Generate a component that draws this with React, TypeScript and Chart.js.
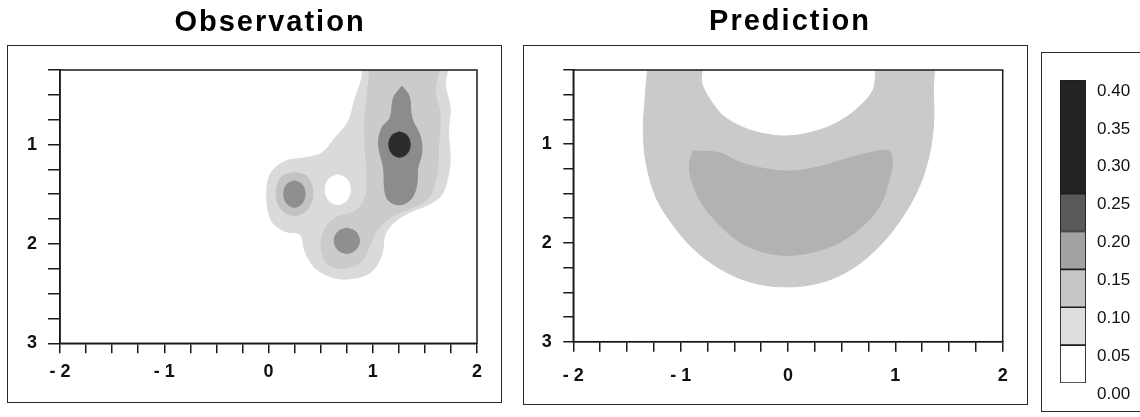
import React, { useEffect, useRef } from 'react';
import { Chart, registerables } from 'chart.js';

Chart.register(...registerables);

const FONT = '"Liberation Sans", Arial, Helvetica, sans-serif';

// ---------- axis ticks ----------
const xTickValues = [-2, -1, 0, 1, 2];
const xTickLabels = ['- 2', '- 1', '0', '1', '2'];
const yTickValues = [1, 2, 3];
const yTickLabels = ['1', '2', '3'];

// ---------- colour scale ----------
const levelLow = [0.0, 0.05, 0.1, 0.15, 0.2, 0.25];
const levelHigh = [0.05, 0.1, 0.15, 0.2, 0.25, 0.4];

type Pt = [number, number];

// ---------- Observation contour outlines (x, y in data units) ----------
const obsBand005: Pt[] = [
  [0.895, 0.15], [1.711, 0.15], [1.695, 0.395], [1.743, 0.63], [1.727, 0.866], [1.743, 1.134],
  [1.727, 1.3], [1.663, 1.504], [1.535, 1.605], [1.375, 1.672], [1.215, 1.773], [1.119, 1.907],
  [1.087, 2.109], [0.991, 2.277], [0.831, 2.344], [0.639, 2.344], [0.447, 2.243], [0.351, 2.076],
  [0.303, 1.907], [0.159, 1.873], [0.031, 1.773], [-0.016, 1.537], [0.015, 1.302], [0.159, 1.168],
  [0.351, 1.134], [0.511, 1.084], [0.639, 0.932], [0.767, 0.765], [0.831, 0.532], [0.895, 0.328],
  [0.895, 0.15],
];
const obsBand010Main: Pt[] = [
  [0.975, 0.15], [1.615, 0.15], [1.599, 0.462], [1.647, 0.698], [1.631, 1.034], [1.615, 1.302],
  [1.535, 1.538], [1.375, 1.638], [1.215, 1.706], [1.055, 1.84], [0.975, 2.008], [0.895, 2.176],
  [0.735, 2.243], [0.575, 2.21], [0.511, 2.075], [0.527, 1.874], [0.639, 1.739], [0.831, 1.672],
  [0.927, 1.538], [0.943, 1.302], [0.927, 1.034], [0.927, 0.698], [0.959, 0.395], [0.975, 0.15],
];
const obsBand010Left: Pt[] = [
  [0.249, 1.279], [0.374, 1.326], [0.425, 1.497], [0.374, 1.652], [0.249, 1.716],
  [0.124, 1.652], [0.073, 1.497], [0.124, 1.326], [0.249, 1.279],
];
const obsBand015Main: Pt[] = [
  [1.279, 0.412], [1.349, 0.513], [1.375, 0.731], [1.455, 0.916], [1.471, 1.084], [1.432, 1.235],
  [1.423, 1.403], [1.375, 1.538], [1.279, 1.605], [1.167, 1.578], [1.119, 1.487], [1.103, 1.235],
  [1.055, 1.0], [1.087, 0.832], [1.167, 0.731], [1.199, 0.53], [1.279, 0.412],
];
const obsBand015Left: Pt[] = [
  [0.249, 1.363], [0.322, 1.403], [0.351, 1.497], [0.322, 1.591], [0.249, 1.632],
  [0.175, 1.591], [0.146, 1.497], [0.175, 1.403], [0.249, 1.363],
];
const obsBand015Low: Pt[] = [
  [0.751, 1.84], [0.837, 1.877], [0.873, 1.968], [0.837, 2.058], [0.751, 2.095],
  [0.665, 2.058], [0.63, 1.968], [0.665, 1.877], [0.751, 1.84],
];
const obsBand025Peak: Pt[] = [
  [1.257, 0.872], [1.33, 0.909], [1.359, 1.0], [1.33, 1.091], [1.257, 1.128],
  [1.183, 1.091], [1.154, 1.0], [1.183, 0.909], [1.257, 0.872],
];
const obsHole: Pt[] = [
  [0.665, 1.302], [0.751, 1.346], [0.786, 1.454], [0.751, 1.561], [0.665, 1.605],
  [0.578, 1.561], [0.543, 1.454], [0.578, 1.346], [0.665, 1.302],
];

// ---------- Prediction contour outlines ----------
const predBand005: Pt[] = [
  [-1.301, 0.15], [-1.332, 0.547], [-1.347, 0.883], [-1.317, 1.219], [-1.223, 1.555], [-1.068, 1.824],
  [-0.882, 2.059], [-0.634, 2.261], [-0.354, 2.395], [-0.044, 2.445], [0.267, 2.412], [0.547, 2.294],
  [0.795, 2.093], [1.012, 1.824], [1.199, 1.488], [1.307, 1.152], [1.354, 0.816], [1.354, 0.48],
  [1.323, 0.15], [0.857, 0.15], [0.795, 0.446], [0.671, 0.614], [0.485, 0.765], [0.267, 0.866],
  [0.019, 0.916], [-0.199, 0.9], [-0.416, 0.832], [-0.602, 0.715], [-0.727, 0.547], [-0.804, 0.379],
  [-0.82, 0.15], [-1.301, 0.15],
];
const predBand010: Pt[] = [
  [-0.882, 1.068], [-0.634, 1.091], [-0.447, 1.185], [-0.199, 1.252], [0.019, 1.273], [0.267, 1.236],
  [0.485, 1.168], [0.733, 1.094], [0.935, 1.068], [0.972, 1.185], [0.935, 1.387], [0.857, 1.622],
  [0.702, 1.824], [0.485, 1.992], [0.236, 2.092], [-0.012, 2.126], [-0.23, 2.092], [-0.447, 1.992],
  [-0.634, 1.824], [-0.789, 1.622], [-0.882, 1.42], [-0.919, 1.219], [-0.882, 1.068],
];

// ---------- styles ----------
const levelColors = ['#ffffff', '#dedede', '#c6c6c6', '#a3a3a3', '#5a5a5a', '#232323'];

const pts = (a: Pt[]) => a.map(([x, y]) => ({ x, y }));

function bandDataset(outline: Pt[], color: string) {
  return {
    data: pts(outline),
    showLine: true,
    fill: 'shape',
    backgroundColor: color,
    borderColor: color,
    borderWidth: 1,
    pointRadius: 0,
    pointHoverRadius: 0,
    tension: 0.35,
  };
}

const framePlugin = {
  id: 'plotFrame',
  afterDatasetsDraw(chart: any) {
    const { ctx, chartArea: a } = chart;
    ctx.save();
    ctx.strokeStyle = '#1a1a1a';
    ctx.lineWidth = 1.5;
    ctx.strokeRect(a.left, a.top, a.right - a.left, a.bottom - a.top);
    ctx.restore();
  },
};

const titlePlugin = {
  id: 'panelTitle',
  afterDraw(chart: any, _args: any, opts: any) {
    if (!opts || !opts.text) return;
    const ctx = chart.ctx;
    ctx.save();
    ctx.font = `bold 29px ${FONT}`;
    (ctx as any).letterSpacing = '2px';
    ctx.fillStyle = '#000';
    ctx.textAlign = 'center';
    ctx.textBaseline = 'alphabetic';
    ctx.fillText(opts.text, opts.x, opts.y);
    ctx.restore();
  },
};

interface PanelSpec {
  title: string;
  titleX: number;
  titleY: number;
  canvasW: number;
  area: { left: number; right: number; top: number; bottom: number };
  yTickLen: number;
  yPad: number;
  xTickLen: number;
  xPad: number;
  bands: { outline: Pt[]; color: string }[];
}

const H = 417;

function panelConfig(p: PanelSpec): any {
  const axisH = 40;
  const tickFont = { family: FONT, size: 18, weight: 'bold' as const };
  return {
    type: 'scatter',
    data: { datasets: p.bands.map((b) => bandDataset(b.outline, b.color)).reverse() },
    options: {
      responsive: false,
      animation: false,
      events: [],
      layout: {
        padding: { left: 0, top: p.area.top, right: p.canvasW - p.area.right, bottom: H - p.area.bottom - axisH },
      },
      plugins: {
        legend: { display: false },
        tooltip: { enabled: false },
        panelTitle: { text: p.title, x: p.titleX, y: p.titleY },
      },
      scales: {
        x: {
          type: 'linear',
          position: 'bottom',
          min: -2,
          max: 2,
          ticks: {
            stepSize: 0.25,
            autoSkip: false,
            maxRotation: 0,
            padding: p.xPad,
            color: '#111',
            font: tickFont,
            callback: (v: any) => {
              const i = xTickValues.indexOf(Number(v));
              return i >= 0 ? xTickLabels[i] : '';
            },
          },
          grid: { drawOnChartArea: false, drawTicks: true, tickLength: p.xTickLen, color: '#1a1a1a', lineWidth: 1.5 },
          border: { display: true, color: '#1a1a1a', width: 1.5 },
          afterFit: (s: any) => {
            s.height = axisH;
          },
        },
        y: {
          type: 'linear',
          position: 'left',
          min: 0.25,
          max: 3,
          reverse: true,
          ticks: {
            stepSize: 0.25,
            autoSkip: false,
            padding: p.yPad,
            color: '#111',
            font: tickFont,
            callback: (v: any) => {
              const i = yTickValues.indexOf(Number(v));
              return i >= 0 ? yTickLabels[i] : '';
            },
          },
          grid: { drawOnChartArea: false, drawTicks: true, tickLength: p.yTickLen, color: '#1a1a1a', lineWidth: 1.5 },
          border: { display: true, color: '#1a1a1a', width: 1.5 },
          afterFit: (s: any) => {
            s.width = p.area.left;
          },
        },
      },
    },
    plugins: [framePlugin, titlePlugin],
  };
}

const obsSpec: PanelSpec = {
  title: 'Observation',
  titleX: 270,
  titleY: 31,
  canvasW: 510,
  area: { left: 60, right: 477, top: 70, bottom: 343.3 },
  yTickLen: 12,
  yPad: 11,
  xTickLen: 10,
  xPad: 8,
  bands: [
    { outline: obsBand005, color: '#dadada' },
    { outline: obsBand010Main, color: '#cbcbcb' },
    { outline: obsBand010Left, color: '#c3c3c3' },
    { outline: obsBand015Main, color: '#8c8c8c' },
    { outline: obsBand015Left, color: '#8e8e8e' },
    { outline: obsBand015Low, color: '#8f8f8f' },
    { outline: obsBand025Peak, color: '#2c2c2c' },
    { outline: obsHole, color: '#ffffff' },
  ],
};

const predSpec: PanelSpec = {
  title: 'Prediction',
  titleX: 275,
  titleY: 30,
  canvasW: 525,
  area: { left: 58.3, right: 487.7, top: 70, bottom: 341.7 },
  yTickLen: 10,
  yPad: 11.6,
  xTickLen: 10,
  xPad: 14,
  bands: [
    { outline: predBand005, color: '#cacaca' },
    { outline: predBand010, color: '#b2b2b2' },
  ],
};

function colorbarConfig(): any {
  return {
    type: 'bar',
    data: {
      labels: ['scale'],
      datasets: levelLow.map((lo, i) => ({
        data: [[lo, levelHigh[i]]],
        backgroundColor: levelColors[i],
        borderColor: '#1e1e1e',
        borderWidth: 1.2,
        borderSkipped: false,
        barPercentage: 1,
        categoryPercentage: 1,
        grouped: false,
      })),
    },
    options: {
      responsive: false,
      animation: false,
      events: [],
      layout: { padding: { left: 20, top: 80, right: 0, bottom: 34 } },
      plugins: { legend: { display: false }, tooltip: { enabled: false } },
      scales: {
        x: { display: false },
        y: {
          position: 'right',
          min: 0,
          max: 0.4,
          ticks: {
            stepSize: 0.05,
            padding: 3,
            labelOffset: 11,
            color: '#111',
            font: { family: FONT, size: 17 },
            callback: (v: any) => Number(v).toFixed(2),
          },
          grid: { display: false },
          border: { display: false },
          afterFit: (s: any) => {
            s.width = 54;
          },
        },
      },
    },
  };
}

function ChartCanvas({ config, left, width }: { config: () => any; left: number; width: number }) {
  const ref = useRef<HTMLCanvasElement | null>(null);
  useEffect(() => {
    if (!ref.current) return;
    const chart = new Chart(ref.current, config());
    return () => chart.destroy();
  }, []);
  return (
    <canvas
      ref={ref}
      width={width}
      height={H}
      style={{ position: 'absolute', left, top: 0, width, height: H }}
    />
  );
}

const frame = (left: number, top: number, width: number, height: number): React.CSSProperties => ({
  position: 'absolute',
  left,
  top,
  width,
  height,
  border: '1.5px solid #2a2a2a',
  boxSizing: 'border-box',
});

export default function App() {
  return (
    <div
      style={{
        position: 'fixed',
        left: 0,
        top: 0,
        width: 1140,
        height: H,
        background: '#fff',
        overflow: 'hidden',
      }}
    >
      <div style={frame(7, 45, 495, 358)} />
      <div style={frame(523, 45, 505, 360)} />
      <div style={frame(1041, 52, 130, 360)} />
      <ChartCanvas config={() => panelConfig(obsSpec)} left={0} width={510} />
      <ChartCanvas config={() => panelConfig(predSpec)} left={515} width={525} />
      <ChartCanvas config={colorbarConfig} left={1040} width={100} />
    </div>
  );
}
